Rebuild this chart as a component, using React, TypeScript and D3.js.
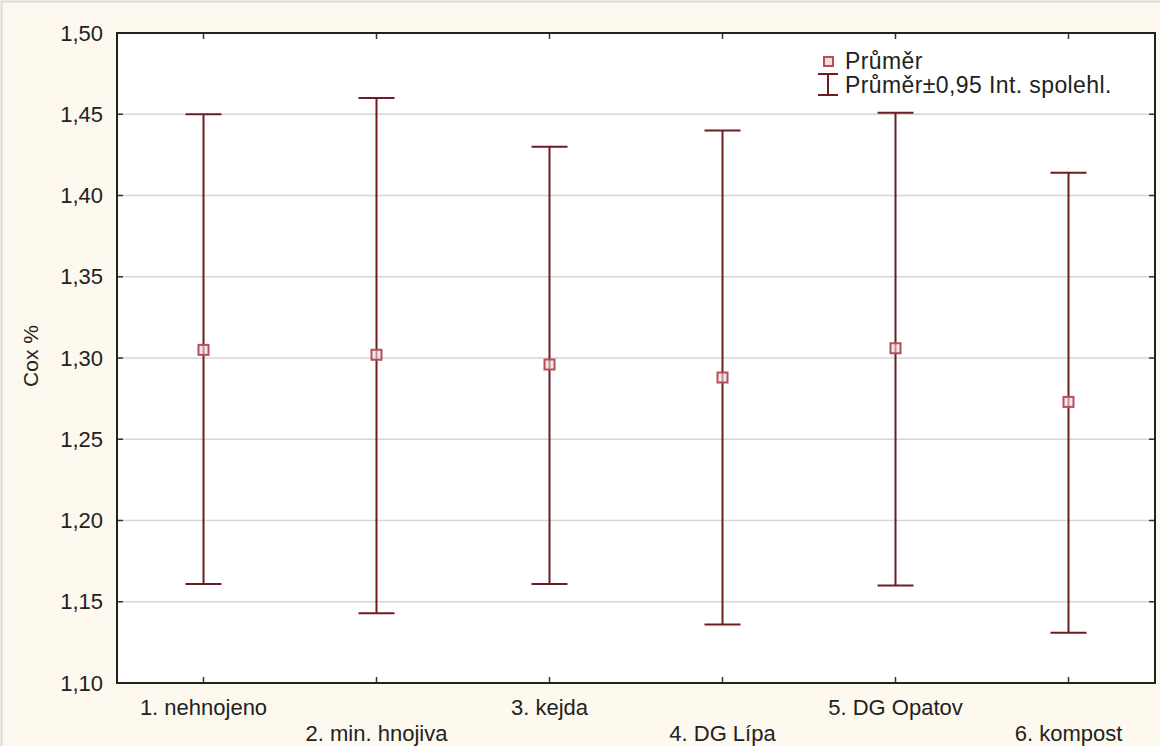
import React from 'react';
import * as d3 from 'd3';

const categories = ['1. nehnojeno', '2. min. hnojiva', '3. kejda', '4. DG Lípa', '5. DG Opatov', '6. kompost'];
const means = [1.305, 1.302, 1.296, 1.288, 1.306, 1.273];
const upper = [1.45, 1.46, 1.43, 1.44, 1.451, 1.414];
const lower = [1.161, 1.143, 1.161, 1.136, 1.16, 1.131];
const yTicks = [1.1, 1.15, 1.2, 1.25, 1.3, 1.35, 1.4, 1.45, 1.5];

const W = 1160;
const H = 746;
const plot = { left: 117, right: 1155, top: 33, bottom: 683 };
const font = '"Liberation Sans", Arial, sans-serif';
const barColor = '#6e1c24';

const App: React.FC = () => {
  const x = d3.scalePoint<string>().domain(categories).range([plot.left, plot.right]).padding(0.5);
  const y = d3.scaleLinear().domain([1.1, 1.5]).range([plot.bottom, plot.top]);
  const fmt = (v: number) => v.toFixed(2).replace('.', ',');
  const cap = 18;

  return (
    <svg width={W} height={H} style={{ position: 'absolute', left: 0, top: 0 }} fontFamily={font}>
      {/* background */}
      <rect x={0} y={0} width={W} height={H} fill="#fdf9ef" />
      <rect x={1.5} y={1.5} width={W + 10} height={H + 10} fill="none" stroke="#dcdcdc" strokeWidth={2} />
      <rect x={plot.left} y={plot.top} width={plot.right - plot.left} height={plot.bottom - plot.top} fill="#fff" />

      {/* grid */}
      {yTicks.map(t => (
        <line key={'g' + t} x1={plot.left} x2={plot.right} y1={y(t)} y2={y(t)} stroke="#d6d6d6" strokeWidth={1.5} />
      ))}

      {/* ticks */}
      {yTicks.map(t => (
        <g key={'t' + t}>
          <line x1={plot.left} x2={plot.left + 6} y1={y(t)} y2={y(t)} stroke="#333" strokeWidth={1.5} />
          <line x1={plot.right - 6} x2={plot.right} y1={y(t)} y2={y(t)} stroke="#333" strokeWidth={1.5} />
          <text x={103} y={y(t)} dy="0.35em" textAnchor="end" fontSize={22} fill="#222">
            {fmt(t)}
          </text>
        </g>
      ))}
      {categories.map((c, i) => (
        <g key={'x' + c}>
          <line x1={x(c)} x2={x(c)} y1={plot.bottom} y2={plot.bottom - 6} stroke="#333" strokeWidth={1.5} />
          <line x1={x(c)} x2={x(c)} y1={plot.top} y2={plot.top + 6} stroke="#333" strokeWidth={1.5} />
          <text x={x(c)} y={i % 2 === 0 ? 715 : 741} textAnchor="middle" fontSize={22} fill="#222">
            {c}
          </text>
        </g>
      ))}

      {/* error bars */}
      {categories.map((c, i) => {
        const cx = x(c) as number;
        return (
          <g key={'b' + c}>
            <line x1={cx} x2={cx} y1={y(upper[i])} y2={y(lower[i])} stroke={barColor} strokeWidth={2} />
            <line x1={cx - cap} x2={cx + cap} y1={y(upper[i])} y2={y(upper[i])} stroke={barColor} strokeWidth={2} />
            <line x1={cx - cap} x2={cx + cap} y1={y(lower[i])} y2={y(lower[i])} stroke={barColor} strokeWidth={2} />
            <rect x={cx - 5} y={y(means[i]) - 5} width={10} height={10} fill="#f5d9dc" fillOpacity={0.6} stroke="#b4505c" strokeWidth={2} />
          </g>
        );
      })}

      {/* frame */}
      <rect x={plot.left} y={plot.top} width={plot.right - plot.left} height={plot.bottom - plot.top} fill="none" stroke="#222" strokeWidth={2} />

      {/* axis title */}
      <text transform={`translate(38,356) rotate(-90)`} textAnchor="middle" fontSize={21} fill="#222">
        Cox %
      </text>

      {/* legend */}
      <g>
        <rect x={824} y={57} width={9} height={9} fill="#f5d9dc" stroke="#b4505c" strokeWidth={2} />
        <text x={845} y={69} fontSize={23} letterSpacing={0.4} fill="#222">Průměr</text>
        <line x1={828} x2={828} y1={74} y2={95} stroke={barColor} strokeWidth={2} />
        <line x1={818} x2={838} y1={74} y2={74} stroke={barColor} strokeWidth={2} />
        <line x1={818} x2={838} y1={95} y2={95} stroke={barColor} strokeWidth={2} />
        <text x={845} y={93} fontSize={23} letterSpacing={0.4} fill="#222">Průměr±0,95 Int. spolehl.</text>
      </g>
    </svg>
  );
};

export default App;
